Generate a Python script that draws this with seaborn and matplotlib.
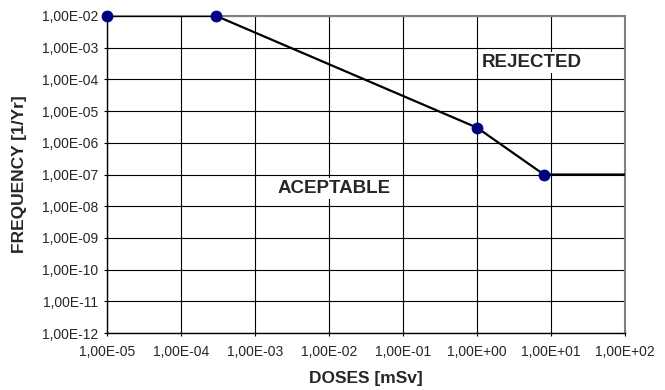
import matplotlib
matplotlib.use("Agg")
import matplotlib.pyplot as plt
import matplotlib.ticker as mticker
import seaborn as sns
import pandas as pd

# curve points (dose in mSv, frequency per year)
doses = [1e-5, 3e-4, 1.0, 8.0, 1e2]
freqs = [1e-2, 1e-2, 3e-6, 1e-7, 1e-7]
marked = [True, True, True, True, False]

x_ticks = [1e-5, 1e-4, 1e-3, 1e-2, 1e-1, 1e0, 1e1, 1e2]
y_ticks = [1e-12, 1e-11, 1e-10, 1e-9, 1e-8, 1e-7, 1e-6, 1e-5, 1e-4, 1e-3, 1e-2]

df = pd.DataFrame({"dose": doses, "freq": freqs, "marked": marked})

sns.set_style("white")
plt.rcParams['font.family'] = ['Liberation Sans', 'DejaVu Sans']

fig = plt.figure(figsize=(6.65, 3.9), dpi=100)
ax = fig.add_axes([0.161, 0.146, 0.779, 0.813])

sns.lineplot(data=df, x="dose", y="freq", color="black", linewidth=1.6,
             ax=ax, estimator=None, sort=False, zorder=3)
sns.scatterplot(data=df[df["marked"]], x="dose", y="freq", color="#000080",
                s=62, edgecolor="#000080", ax=ax, zorder=4, clip_on=False)

ax.set_xscale("log")
ax.set_yscale("log")
ax.set_xlim(1e-5, 1e2)
ax.set_ylim(1e-12, 1e-2)

fmt = mticker.FuncFormatter(lambda v, p: f"{v:.2E}".replace(".", ","))
ax.xaxis.set_major_locator(mticker.FixedLocator(x_ticks))
ax.yaxis.set_major_locator(mticker.FixedLocator(y_ticks))
ax.xaxis.set_minor_locator(mticker.NullLocator())
ax.yaxis.set_minor_locator(mticker.NullLocator())
ax.xaxis.set_major_formatter(fmt)
ax.yaxis.set_major_formatter(fmt)

ax.grid(True, color="black", linewidth=0.8)
ax.set_axisbelow(True)
ax.tick_params(axis="both", direction="inout", length=5, width=0.8,
               labelsize=10, color="black", left=True, bottom=True)
ax.tick_params(axis="x", pad=6)
ax.tick_params(axis="y", pad=4)

for side in ["left", "bottom"]:
    ax.spines[side].set_color("black")
    ax.spines[side].set_linewidth(1.0)
for side in ["top", "right"]:
    ax.spines[side].set_color("#808080")
    ax.spines[side].set_linewidth(1.5)

ax.set_xlabel("DOSES [mSv]", fontsize=12.5, fontweight="bold")
ax.set_ylabel("FREQUENCY [1/Yr]", fontsize=12.5, fontweight="bold")
ax.xaxis.set_label_coords(0.5, -0.12)
ax.yaxis.set_label_coords(-0.155, 0.5)

box = dict(facecolor="white", edgecolor="none", pad=1.5)
ax.text(0.820, 0.852, "REJECTED", transform=ax.transAxes, ha="center",
        va="center", fontsize=13.5, fontweight="bold", bbox=box, zorder=5)
ax.text(0.438, 0.457, "ACEPTABLE", transform=ax.transAxes, ha="center",
        va="center", fontsize=13.5, fontweight="bold", bbox=box, zorder=5)

fig.savefig("out.png", dpi=100)
